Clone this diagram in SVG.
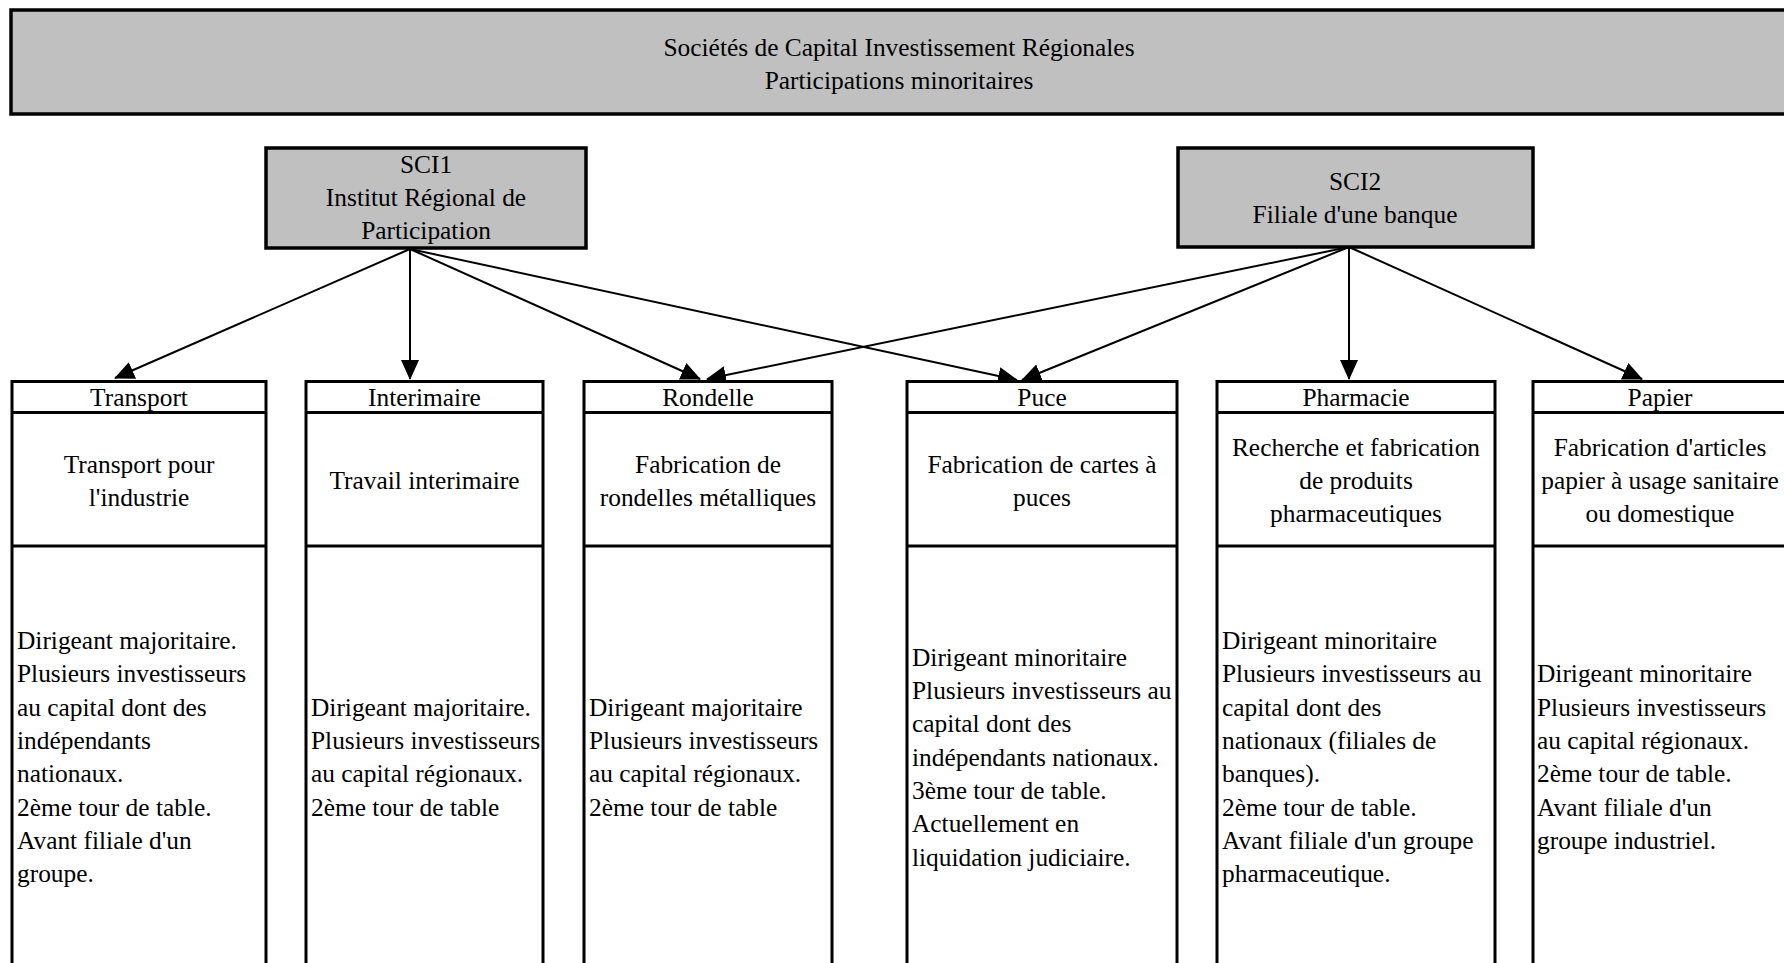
<svg xmlns="http://www.w3.org/2000/svg" width="1784" height="963" viewBox="0 0 1784 963">
<style>
.box{fill:#ffffff;stroke:#000000;stroke-width:3}
.gray{fill:#c0c0c0;stroke:#000000;stroke-width:3.5}
.div{stroke:#000000;stroke-width:3;fill:none}
text{font-family:"Liberation Serif","Times New Roman",serif;font-size:25.4px;fill:#000000}
.c{text-anchor:middle}
.conn line{stroke:#000000;stroke-width:2;marker-end:url(#arr)}
</style>
<defs>
<marker id="arr" markerUnits="userSpaceOnUse" markerWidth="20" markerHeight="18" refX="19" refY="9" orient="auto">
<path d="M0,0 L20,9 L0,18 z" fill="#000000"/>
</marker>
</defs>
<rect width="1784" height="963" fill="#ffffff"/>

<g id="top">
<rect class="gray" x="11" y="10" width="1776" height="104"/>
<text class="c" x="899" y="56">Sociétés de Capital Investissement Régionales</text>
<text class="c" x="899" y="89">Participations minoritaires</text>
</g>

<g id="sci1">
<rect class="gray" x="266" y="148" width="320" height="100"/>
<text class="c" x="426" y="173">SCI1</text>
<text class="c" x="426" y="206">Institut Régional de</text>
<text class="c" x="426" y="239">Participation</text>
</g>

<g id="sci2">
<rect class="gray" x="1178" y="148" width="355" height="99"/>
<text class="c" x="1355" y="190">SCI2</text>
<text class="c" x="1355" y="223">Filiale d'une banque</text>
</g>

<g class="conn" id="connectors">
<line x1="410" y1="249" x2="115" y2="378"/>
<line x1="410" y1="249" x2="410" y2="379"/>
<line x1="410" y1="249" x2="700" y2="379"/>
<line x1="410" y1="249" x2="1017" y2="380"/>
<line x1="1349" y1="247" x2="707" y2="379"/>
<line x1="1349" y1="247" x2="1022" y2="380"/>
<line x1="1349" y1="247" x2="1349" y2="379"/>
<line x1="1349" y1="247" x2="1642" y2="379"/>
</g>

<g id="transport">
<rect class="box" x="12" y="381.5" width="254" height="620"/>
<line class="div" x1="12" y1="412.5" x2="266" y2="412.5"/>
<line class="div" x1="12" y1="546" x2="266" y2="546"/>
<text class="c" x="139" y="406">Transport</text>
<text class="c" x="139" y="473">Transport pour</text>
<text class="c" x="139" y="506">l'industrie</text>
<text x="17" y="649">Dirigeant majoritaire.<tspan x="17" y="682.3">Plusieurs investisseurs</tspan><tspan x="17" y="715.6">au capital dont des</tspan><tspan x="17" y="748.9">indépendants</tspan><tspan x="17" y="782.2">nationaux.</tspan><tspan x="17" y="815.5">2ème tour de table.</tspan><tspan x="17" y="848.8">Avant filiale d'un</tspan><tspan x="17" y="882.1">groupe.</tspan></text>
</g>

<g id="interimaire">
<rect class="box" x="306" y="381.5" width="237" height="620"/>
<line class="div" x1="306" y1="412.5" x2="543" y2="412.5"/>
<line class="div" x1="306" y1="546" x2="543" y2="546"/>
<text class="c" x="424.5" y="406">Interimaire</text>
<text class="c" x="424.5" y="489">Travail interimaire</text>
<text x="311" y="715.6">Dirigeant majoritaire.<tspan x="311" y="748.9">Plusieurs investisseurs</tspan><tspan x="311" y="782.2">au capital régionaux.</tspan><tspan x="311" y="815.5">2ème tour de table</tspan></text>
</g>

<g id="rondelle">
<rect class="box" x="584" y="381.5" width="248" height="620"/>
<line class="div" x1="584" y1="412.5" x2="832" y2="412.5"/>
<line class="div" x1="584" y1="546" x2="832" y2="546"/>
<text class="c" x="708" y="406">Rondelle</text>
<text class="c" x="708" y="473">Fabrication de</text>
<text class="c" x="708" y="506">rondelles métalliques</text>
<text x="589" y="715.6">Dirigeant majoritaire<tspan x="589" y="748.9">Plusieurs investisseurs</tspan><tspan x="589" y="782.2">au capital régionaux.</tspan><tspan x="589" y="815.5">2ème tour de table</tspan></text>
</g>

<g id="puce">
<rect class="box" x="907" y="381.5" width="270" height="620"/>
<line class="div" x1="907" y1="412.5" x2="1177" y2="412.5"/>
<line class="div" x1="907" y1="546" x2="1177" y2="546"/>
<text class="c" x="1042" y="406">Puce</text>
<text class="c" x="1042" y="473">Fabrication de cartes à</text>
<text class="c" x="1042" y="506">puces</text>
<text x="912" y="665.7">Dirigeant minoritaire<tspan x="912" y="699">Plusieurs investisseurs au</tspan><tspan x="912" y="732.3">capital dont des</tspan><tspan x="912" y="765.6">indépendants nationaux.</tspan><tspan x="912" y="798.9">3ème tour de table.</tspan><tspan x="912" y="832.2">Actuellement en</tspan><tspan x="912" y="865.5">liquidation judiciaire.</tspan></text>
</g>

<g id="pharmacie">
<rect class="box" x="1217" y="381.5" width="278" height="620"/>
<line class="div" x1="1217" y1="412.5" x2="1495" y2="412.5"/>
<line class="div" x1="1217" y1="546" x2="1495" y2="546"/>
<text class="c" x="1356" y="406">Pharmacie</text>
<text class="c" x="1356" y="456">Recherche et fabrication</text>
<text class="c" x="1356" y="489">de produits</text>
<text class="c" x="1356" y="522">pharmaceutiques</text>
<text x="1222" y="649">Dirigeant minoritaire<tspan x="1222" y="682.3">Plusieurs investisseurs au</tspan><tspan x="1222" y="715.6">capital dont des</tspan><tspan x="1222" y="748.9">nationaux (filiales de</tspan><tspan x="1222" y="782.2">banques).</tspan><tspan x="1222" y="815.5">2ème tour de table.</tspan><tspan x="1222" y="848.8">Avant filiale d'un groupe</tspan><tspan x="1222" y="882.1">pharmaceutique.</tspan></text>
</g>

<g id="papier">
<rect class="box" x="1533" y="381.5" width="254" height="620"/>
<line class="div" x1="1533" y1="412.5" x2="1787" y2="412.5"/>
<line class="div" x1="1533" y1="546" x2="1787" y2="546"/>
<text class="c" x="1660" y="406">Papier</text>
<text class="c" x="1660" y="456">Fabrication d'articles</text>
<text class="c" x="1660" y="489">papier à usage sanitaire</text>
<text class="c" x="1660" y="522">ou domestique</text>
<text x="1537" y="682.3">Dirigeant minoritaire<tspan x="1537" y="715.6">Plusieurs investisseurs</tspan><tspan x="1537" y="748.9">au capital régionaux.</tspan><tspan x="1537" y="782.2">2ème tour de table.</tspan><tspan x="1537" y="815.5">Avant filiale d'un</tspan><tspan x="1537" y="848.8">groupe industriel.</tspan></text>
</g>
</svg>
